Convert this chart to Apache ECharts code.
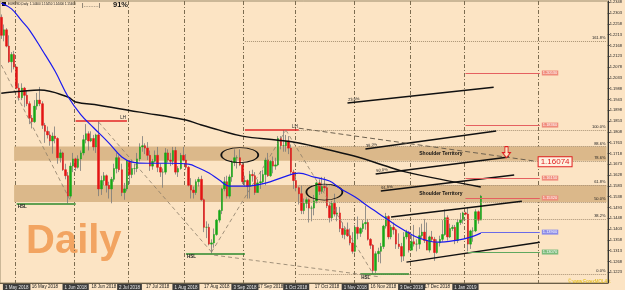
<!DOCTYPE html>
<html><head><meta charset="utf-8">
<script src="https://cdn.jsdelivr.net/npm/echarts@6/dist/echarts.min.js"></script>
<style>html,body{margin:0;padding:0;background:#FCE4C4}#c{width:625px;height:290px}</style>
</head><body><div id="c"></div><script>
// ---- data (EURUSD daily) ----
const barCount = 188;      // 23 Apr 2018 .. 9 Jan 2019
const slotCount = 237;     // including the empty right margin
const opens = [1.2285,1.2210,1.2233,1.2165,1.2100,1.2130,1.2078,1.1990,1.1950,1.1990,1.1960,1.1925,1.1865,1.1850,1.1915,1.1940,1.1925,1.1835,1.1810,1.1795,1.1770,1.1790,1.1780,1.1700,1.1720,1.1650,1.1625,1.1540,1.1665,1.1695,1.1660,1.1695,1.1720,1.1775,1.1800,1.1770,1.1780,1.1745,1.1795,1.1570,1.1605,1.1625,1.1585,1.1570,1.1610,1.1655,1.1700,1.1650,1.1555,1.1570,1.1685,1.1630,1.1655,1.1655,1.1695,1.1745,1.1750,1.1740,1.1710,1.1665,1.1685,1.1710,1.1660,1.1640,1.1640,1.1720,1.1690,1.1685,1.1730,1.1640,1.1655,1.1710,1.1690,1.1660,1.1585,1.1565,1.1555,1.1600,1.1610,1.1525,1.1410,1.1410,1.1340,1.1345,1.1380,1.1440,1.1480,1.1570,1.1600,1.1540,1.1620,1.1680,1.1700,1.1700,1.1670,1.1600,1.1605,1.1580,1.1630,1.1625,1.1555,1.1595,1.1600,1.1630,1.1690,1.1625,1.1685,1.1665,1.1670,1.1780,1.1750,1.1750,1.1770,1.1740,1.1640,1.1605,1.1575,1.1550,1.1480,1.1510,1.1525,1.1490,1.1490,1.1520,1.1595,1.1560,1.1580,1.1575,1.1500,1.1450,1.1510,1.1465,1.1470,1.1405,1.1380,1.1400,1.1375,1.1345,1.1310,1.1410,1.1385,1.1405,1.1425,1.1430,1.1360,1.1335,1.1230,1.1300,1.1310,1.1330,1.1415,1.1455,1.1370,1.1410,1.1400,1.1340,1.1330,1.1290,1.1370,1.1390,1.1315,1.1350,1.1340,1.1340,1.1375,1.1390,1.1355,1.1315,1.1370,1.1360,1.1305,1.1345,1.1360,1.1380,1.1450,1.1370,1.1405,1.1410,1.1355,1.1430,1.1440,1.1470,1.1465,1.1340,1.1395,1.1395,1.1475,1.1440];
const closes = [1.2210,1.2233,1.2165,1.2100,1.2130,1.2078,1.1990,1.1950,1.1990,1.1960,1.1925,1.1865,1.1850,1.1915,1.1940,1.1925,1.1835,1.1810,1.1795,1.1770,1.1790,1.1780,1.1700,1.1720,1.1650,1.1625,1.1540,1.1665,1.1695,1.1660,1.1695,1.1720,1.1775,1.1800,1.1770,1.1780,1.1745,1.1795,1.1570,1.1605,1.1625,1.1585,1.1570,1.1610,1.1655,1.1700,1.1650,1.1555,1.1570,1.1685,1.1630,1.1655,1.1655,1.1695,1.1745,1.1750,1.1740,1.1710,1.1665,1.1685,1.1710,1.1660,1.1640,1.1640,1.1720,1.1690,1.1685,1.1730,1.1640,1.1655,1.1710,1.1690,1.1660,1.1585,1.1565,1.1555,1.1600,1.1610,1.1525,1.1410,1.1410,1.1340,1.1345,1.1380,1.1440,1.1480,1.1570,1.1600,1.1540,1.1620,1.1680,1.1700,1.1700,1.1670,1.1600,1.1605,1.1580,1.1630,1.1625,1.1555,1.1595,1.1600,1.1630,1.1690,1.1625,1.1685,1.1665,1.1670,1.1780,1.1750,1.1750,1.1770,1.1740,1.1640,1.1605,1.1575,1.1550,1.1480,1.1510,1.1525,1.1490,1.1490,1.1520,1.1595,1.1560,1.1580,1.1575,1.1500,1.1450,1.1510,1.1465,1.1470,1.1405,1.1380,1.1400,1.1375,1.1345,1.1310,1.1410,1.1385,1.1405,1.1425,1.1430,1.1360,1.1335,1.1230,1.1300,1.1310,1.1330,1.1415,1.1455,1.1370,1.1410,1.1400,1.1340,1.1330,1.1290,1.1370,1.1390,1.1315,1.1350,1.1340,1.1340,1.1375,1.1390,1.1355,1.1315,1.1370,1.1360,1.1305,1.1345,1.1360,1.1380,1.1450,1.1370,1.1405,1.1410,1.1355,1.1430,1.1440,1.1470,1.1465,1.1340,1.1395,1.1395,1.1475,1.1440,1.1540];
const lows = [1.2195,1.2185,1.2160,1.2095,1.2055,1.2068,1.1985,1.1938,1.1940,1.1910,1.1915,1.1840,1.1822,1.1845,1.1900,1.1915,1.1820,1.1762,1.1780,1.1750,1.1717,1.1760,1.1675,1.1680,1.1645,1.1610,1.1510,1.1530,1.1640,1.1645,1.1655,1.1645,1.1710,1.1760,1.1730,1.1765,1.1730,1.1720,1.1540,1.1545,1.1585,1.1555,1.1530,1.1510,1.1600,1.1635,1.1640,1.1540,1.1525,1.1560,1.1590,1.1615,1.1630,1.1640,1.1685,1.1725,1.1715,1.1690,1.1645,1.1650,1.1680,1.1640,1.1620,1.1575,1.1630,1.1680,1.1665,1.1670,1.1630,1.1620,1.1650,1.1685,1.1650,1.1580,1.1530,1.1530,1.1545,1.1580,1.1520,1.1390,1.1365,1.1335,1.1301,1.1325,1.1375,1.1430,1.1465,1.1560,1.1530,1.1530,1.1600,1.1665,1.1655,1.1665,1.1590,1.1580,1.1530,1.1530,1.1600,1.1545,1.1555,1.1570,1.1590,1.1585,1.1620,1.1620,1.1635,1.1650,1.1665,1.1735,1.1725,1.1725,1.1715,1.1630,1.1570,1.1560,1.1505,1.1465,1.1465,1.1490,1.1430,1.1435,1.1460,1.1510,1.1545,1.1550,1.1560,1.1490,1.1430,1.1435,1.1455,1.1435,1.1390,1.1365,1.1360,1.1370,1.1335,1.1300,1.1305,1.1360,1.1370,1.1390,1.1400,1.1355,1.1320,1.1216,1.1220,1.1265,1.1260,1.1320,1.1405,1.1360,1.1360,1.1380,1.1320,1.1320,1.1265,1.1270,1.1360,1.1305,1.1315,1.1330,1.1310,1.1320,1.1365,1.1345,1.1315,1.1305,1.1350,1.1270,1.1300,1.1330,1.1350,1.1375,1.1355,1.1365,1.1395,1.1340,1.1345,1.1420,1.1425,1.1460,1.1310,1.1320,1.1350,1.1390,1.1425,1.1440];
const highs = [1.2297,1.2255,1.2240,1.2210,1.2140,1.2145,1.2080,1.2010,1.2010,1.1995,1.1980,1.1935,1.1878,1.1940,1.1970,1.1995,1.1935,1.1845,1.1830,1.1810,1.1805,1.1830,1.1785,1.1735,1.1725,1.1675,1.1640,1.1680,1.1720,1.1700,1.1710,1.1730,1.1795,1.1840,1.1810,1.1810,1.1795,1.1800,1.1852,1.1625,1.1640,1.1630,1.1600,1.1620,1.1675,1.1720,1.1710,1.1675,1.1595,1.1690,1.1690,1.1690,1.1675,1.1720,1.1760,1.1790,1.1760,1.1765,1.1730,1.1695,1.1730,1.1745,1.1675,1.1655,1.1740,1.1735,1.1720,1.1745,1.1745,1.1665,1.1720,1.1745,1.1715,1.1665,1.1615,1.1580,1.1610,1.1620,1.1625,1.1530,1.1435,1.1425,1.1360,1.1405,1.1445,1.1485,1.1575,1.1620,1.1625,1.1630,1.1690,1.1735,1.1710,1.1735,1.1680,1.1625,1.1610,1.1645,1.1650,1.1640,1.1610,1.1645,1.1650,1.1700,1.1720,1.1690,1.1705,1.1700,1.1790,1.1790,1.1815,1.1795,1.1790,1.1755,1.1650,1.1625,1.1580,1.1585,1.1530,1.1535,1.1530,1.1500,1.1545,1.1600,1.1610,1.1620,1.1620,1.1590,1.1510,1.1520,1.1550,1.1495,1.1495,1.1430,1.1410,1.1430,1.1405,1.1390,1.1420,1.1455,1.1410,1.1440,1.1500,1.1445,1.1365,1.1340,1.1310,1.1325,1.1345,1.1420,1.1470,1.1460,1.1420,1.1430,1.1405,1.1385,1.1345,1.1390,1.1400,1.1395,1.1380,1.1420,1.1360,1.1410,1.1425,1.1445,1.1430,1.1375,1.1395,1.1370,1.1360,1.1375,1.1440,1.1485,1.1460,1.1425,1.1420,1.1420,1.1445,1.1470,1.1475,1.1475,1.1495,1.1400,1.1410,1.1485,1.1480,1.1545];

// moving averages (bar index, value)
const maBlueIdx = [0,4,8,11,16,21,26,31,36,42,47,51,57,66,73,77,81,85,89,96,103,110,116,122,128,132,138,143,147,151,155,159,163,170,178,183,187];
const maBlueVal = [1.2344,1.2320,1.2270,1.2232,1.2148,1.2060,1.1955,1.1880,1.1825,1.1761,1.1703,1.1682,1.1677,1.1677,1.1673,1.1657,1.1636,1.1607,1.1582,1.1582,1.1594,1.1619,1.1636,1.1619,1.1603,1.1573,1.1536,1.1498,1.1469,1.1440,1.1411,1.1386,1.1365,1.1348,1.1357,1.1369,1.1386];
const maBlackIdx = [0,8,15,26,29,38,54,72,77,85,94,108,116,128,139,149,158,187];
const maBlackVal = [1.1969,1.1977,1.1982,1.1953,1.1932,1.1919,1.1890,1.1857,1.1840,1.1815,1.1790,1.1773,1.1761,1.1732,1.1703,1.1669,1.1640,1.1578];

// fibonacci levels (0% = 1.1216 low, 100% = 1.1815 high)
const fibNames = ['0.0%','38.2%','50.0%','61.8%','78.6%','88.6%','100.0%','161.8%'];
const fibPrices = [1.1216,1.1445,1.15155,1.1586,1.1687,1.1747,1.1815,1.2185];
const fibStart = [116,116,116,116,116,116,116,95];

// zones
const zones = [[1.1747,1.1687],[1.1586,1.15155]];

// swing levels
const swingHi = [[29,49,1.1852],[95,116,1.1815]];
const swingLo = [[6,29,1.1510],[72,95,1.1301],[140,159,1.1216]];

// trend lines [i1,p1,i2,p2] and their tags
const trendLines = [[135,1.1928,192,1.1994],[142,1.1736,193,1.1811],[146,1.1632,198,1.1703],[148,1.1561,200,1.1628],[152,1.1453,203,1.1519],[158,1.1265,210,1.1348]];
const trendTags = ['23.6%','38.2%','50.0%','61.8%','',''];
const dashedLines = [[0,1.2086,27,1.1520],[38,1.1848,82,1.1307],[82,1.1307,111,1.1815],[111,1.1815,145,1.1216],[83,1.1294,148,1.1203]];

// target levels on the right [fromIdx, price, colour]
const targetLevels = [[181,1.2053,'r'],[181,1.1836,'r'],[181,1.1615,'r'],[181,1.1532,'r'],[187,1.1390,'b'],[182,1.1307,'g']];
const lastPrice = 1.1540;

// ---- build ----
const MON=['Jan','Feb','Mar','Apr','May','Jun','Jul','Aug','Sep','Oct','Nov','Dec'];
const cats=[];
{ const d=new Date(Date.UTC(2018,3,23));
  while(cats.length<slotCount){const w=d.getUTCDay(); if(w!==0&&w!==6) cats.push(d.getUTCDate()+' '+MON[d.getUTCMonth()]+' '+d.getUTCFullYear()); d.setUTCDate(d.getUTCDate()+1);} }
const sepIdx=[6,29,50,72,95,115,138,160,181,210];
const labelIdx=[3,17,40,61,84,105,127,149,170,184];

const candleData = opens.map((o,i)=>[o,closes[i],lows[i],highs[i]]);
const bodyData = opens.map((o,i)=>[o,closes[i],Math.min(o,closes[i]),Math.max(o,closes[i])]);

const RED='#E32626', GRN='#2C8A2C', BLK='#111';
function seg(i1,p1,i2,p2,ls,lb){return [{coord:[cats[i1],p1],lineStyle:ls,label:lb||{show:false}},{coord:[cats[i2],p2]}];}
const small={show:true,fontSize:4.5,color:'#222',fontFamily:'Liberation Sans'};
const ml=[];
fibPrices.forEach((p,k)=>ml.push(seg(fibStart[k],p,slotCount-1,p,{color:'#A89274',type:'dotted',width:1},Object.assign({},small,{position:'insideEndTop',formatter:fibNames[k],distance:1,fontSize:4}))));
swingHi.forEach(s=>ml.push(seg(s[0],s[2],s[1],s[2],{color:RED,type:'solid',width:1.5},Object.assign({},small,{position:'insideEndTop',formatter:'LH',distance:1}))));
swingLo.forEach(s=>ml.push(seg(s[0],s[2],s[1],s[2],{color:GRN,type:'solid',width:1.5},Object.assign({},small,{position:'insideStartBottom',formatter:'HSL',distance:1,fontWeight:'bold'}))));
trendLines.forEach((t,k)=>ml.push(seg(t[0],t[1],t[2],t[3],{color:BLK,type:'solid',width:1.5},trendTags[k]?Object.assign({},small,{position:'insideStartTop',formatter:trendTags[k],distance:1,fontSize:4}):null)));
dashedLines.forEach(t=>ml.push(seg(t[0],t[1],t[2],t[3],{color:'#8A7C68',type:[4,3],width:0.8})));
ml.push(seg(116,1.1823,208,1.1686,{color:'#6E6250',type:[5,3],width:1},{show:true,position:'end',distance:4,formatter:'1.16074',fontSize:8,color:'#E02020',backgroundColor:'#FFF1E0',borderColor:'#E02020',borderWidth:1,padding:[1,2,0,2],fontFamily:'Liberation Sans'}));
const tcol={r:['#E56060','#F08C7C'],b:['#6A6AE8','#8C8CE8'],g:['#5FA85F','#7CBC7C']};
targetLevels.forEach(t=>ml.push(seg(t[0],t[1],210,t[1],{color:tcol[t[2]][0],type:'solid',width:1},{show:true,position:'end',distance:2,formatter:t[1].toFixed(5),fontSize:4,color:'#fff',backgroundColor:tcol[t[2]][1],padding:[1,1,0,1],fontFamily:'Liberation Sans'})));
ml.push(seg(barCount-1,lastPrice,slotCount-1,lastPrice,{opacity:0},{show:true,position:'end',distance:2,formatter:lastPrice.toFixed(5),fontSize:4,color:'#fff',backgroundColor:'#000',padding:[1,1,0,1],fontFamily:'Liberation Sans'}));

const ellipse='path://M0 50A50 50 0 1 0 100 50A50 50 0 1 0 0 50Z';
const arrow='path://M3 0H7V6H10L5 11L0 6H3Z';
const tagLabel=(txt)=>({show:true,position:'right',distance:0,formatter:txt,fontSize:5,fontWeight:'bold',color:'#111',fontFamily:'Liberation Sans'});

const chart=echarts.init(document.getElementById('c'),null,{renderer:'canvas'});
chart.setOption({
  animation:false,
  backgroundColor:'#FCE4C4',
  grid:{left:0,right:13,top:1,bottom:7,show:true,borderColor:'#9A8A6A',borderWidth:1,backgroundColor:'#FCE4C4'},
  xAxis:{type:'category',data:cats,boundaryGap:true,
    axisLine:{show:true,lineStyle:{color:'#6A5E48'}},axisTick:{show:false},
    axisLabel:{fontSize:4.5,color:'#222',margin:1,fontFamily:'Liberation Sans',
      interval:(i)=>i<barCount&&(labelIdx.indexOf(i)>=0||sepIdx.indexOf(i)>=0),
      formatter:(v,i)=>sepIdx.indexOf(i)>=0?'{d|'+v+'}':v,
      rich:{d:{backgroundColor:'#3C3C3C',color:'#E8E8E8',fontSize:4.5,padding:[1,2,0,2],fontFamily:'Liberation Sans'}}},
    splitLine:{show:true,interval:(i)=>sepIdx.indexOf(i)>=0,lineStyle:{color:'#7C6C50',type:[4,2,1,2],width:1}}},
  yAxis:{type:'value',position:'right',min:1.1178,max:1.2353,interval:0.0045,scale:true,
    axisLine:{show:true,lineStyle:{color:'#333'}},axisTick:{show:true,length:2,lineStyle:{color:'#333'}},
    splitLine:{show:false},
    axisLabel:{fontSize:4,color:'#222',margin:2,fontFamily:'Liberation Sans',formatter:v=>v.toFixed(4),showMinLabel:false,showMaxLabel:false}},
  series:[
    {type:'line',data:[],z:1,silent:true,
      markArea:{silent:true,itemStyle:{color:'#DBB88A'},
        data:zones.map(z=>[{xAxis:cats[5],yAxis:z[0]},{xAxis:cats[slotCount-1],yAxis:z[1]}])}},
    {type:'candlestick',data:candleData,barWidth:1,z:3,silent:true,
      itemStyle:{color:'#7A7A7A',color0:'#7A7A7A',borderColor:'#7A7A7A',borderColor0:'#7A7A7A',borderWidth:0.8}},
    {type:'candlestick',data:bodyData,barWidth:2,z:4,silent:true,
      itemStyle:{color:'#16A816',color0:'#E31414',borderColor:'#16A816',borderColor0:'#E31414',borderWidth:0.5}},
    {type:'line',data:maBlackIdx.map((k,i)=>[cats[k],maBlackVal[i]]),smooth:0.4,symbol:'none',z:5,silent:true,
      lineStyle:{color:BLK,width:1.5}},
    {type:'line',data:maBlueIdx.map((k,i)=>[cats[k],maBlueVal[i]]),smooth:0.4,symbol:'none',z:6,silent:true,
      lineStyle:{color:'#1A1AF0',width:1.2},
      markLine:{silent:true,symbol:['none','none'],animation:false,data:ml},
      markPoint:{silent:true,animation:false,data:[
        {coord:[cats[93],1.1711],symbol:ellipse,symbolSize:[37,15],itemStyle:{color:'rgba(0,0,0,0)',borderColor:BLK,borderWidth:1.2},label:{show:false}},
        {coord:[cats[126],1.1557],symbol:ellipse,symbolSize:[36,16],itemStyle:{color:'rgba(0,0,0,0)',borderColor:BLK,borderWidth:1.2},label:{show:false}},
        {coord:[cats[197],1.1723],symbol:arrow,symbolSize:[8,11],itemStyle:{color:'#FCE4C4',borderColor:'#E02020',borderWidth:1},label:{show:false}},
        {coord:[cats[163],1.1717],symbol:'circle',symbolSize:0,label:tagLabel('Shoulder Territory')},
        {coord:[cats[163],1.1550],symbol:'circle',symbolSize:0,label:tagLabel('Shoulder Territory')}
      ]}}
  ],
  graphic:[
    {type:'rect',left:2,top:2,shape:{width:4,height:4},style:{fill:'#111'}},
    {type:'text',left:8,top:3,style:{text:'EURUSD,Daily  1.14400 1.15450 1.14400 1.15400',fontSize:3,fill:'#111',fontFamily:'Liberation Sans'}},
    {type:'text',left:82,top:2,style:{text:'|.........|',fontSize:6,fill:'#222',fontFamily:'Liberation Sans'}},
    {type:'text',left:113,top:1,style:{text:'91%',fontSize:7.5,fontWeight:'bold',fill:'#111',fontFamily:'Liberation Sans'}},
    {type:'text',left:26,top:222,style:{text:'Daily',fontSize:40,fontWeight:'bold',fill:'#F2A461',fontFamily:'Liberation Sans'}},
    {type:'text',left:568,top:279,style:{text:'© www.ForexMQL4.it',fontSize:4.5,fill:'#E0B800',fontFamily:'Liberation Sans'}}
  ]
});
</script></body></html>
